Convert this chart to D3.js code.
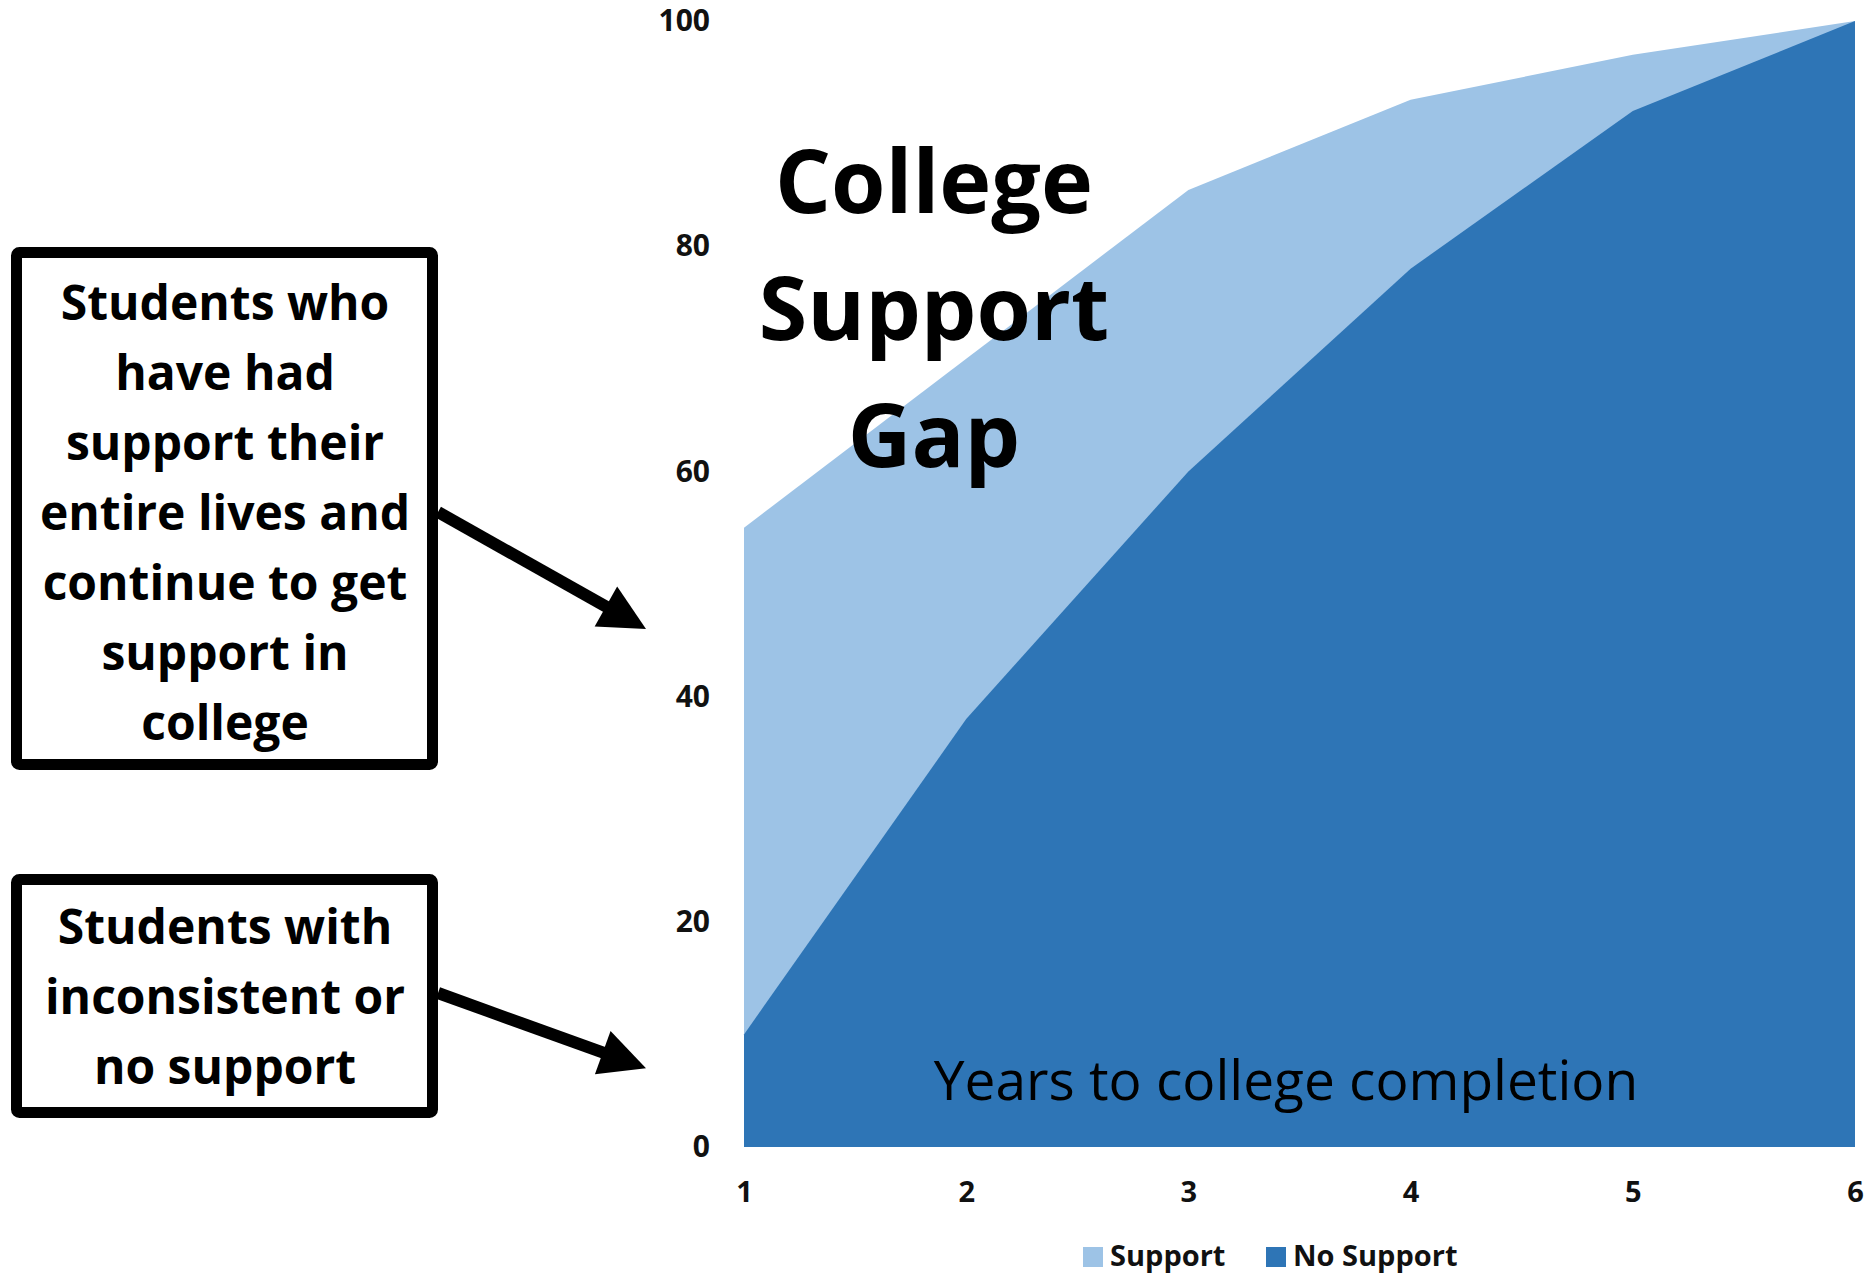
<!DOCTYPE html>
<html>
<head>
<meta charset="utf-8">
<script src="https://cdn.jsdelivr.net/npm/d3@7"></script>
<style>
  body { margin: 0; background: #fff; }
  text { font-family: "Open Sans", "Noto Sans", sans-serif; }
</style>
</head>
<body>
<script>
// Data
const years = [1, 2, 3, 4, 5, 6];
const support = [55, 70, 85, 93, 97, 100];
const noSupport = [10, 38, 60, 78, 92, 100];
const yTicks = [0, 20, 40, 60, 80, 100];
const seriesNames = ['Support', 'No Support'];
const seriesColors = ['#9dc3e6', '#2e75b6'];
const titleLines = ['College', 'Support', 'Gap'];
const boxOneLines = ['Students who', 'have had', 'support their', 'entire lives and',
  'continue to get', 'support in', 'college'];
const boxTwoLines = ['Students with', 'inconsistent or', 'no support'];

// svg size
const WIDTH = 1864;
const HEIGHT = 1274;

const margin = {
  top: 21,
  bottom: 127,
  right: 9,
  left: 744,
};

const svg = d3.select('body')
  .append('svg')
  .attr('width', WIDTH)
  .attr('height', HEIGHT);

// X scale
const escalaX = d3.scaleLinear()
  .domain([1, 6])
  .range([margin.left, WIDTH - margin.right]);

// Y scale
const escalaY = d3.scaleLinear()
  .domain([0, 100])
  .range([HEIGHT - margin.bottom, margin.top]);

// areas (overlapping, not stacked)
const area = (values) => d3.area()
  .x((d, i) => escalaX(years[i]))
  .y0(escalaY(0))
  .y1((d) => d)
  .curve(d3.curveLinear)(values.map((v) => escalaY(v)));

svg.append('path')
  .attr('d', area(support))
  .attr('fill', seriesColors[0]);

svg.append('path')
  .attr('d', area(noSupport))
  .attr('fill', seriesColors[1]);

// axes (no lines, just labels)
const ejeY = d3.axisLeft(escalaY).tickValues(yTicks).tickSize(0).tickPadding(0);
const gY = svg.append('g')
  .attr('transform', `translate(${margin.left - 34}, 0)`)
  .call(ejeY);

const ejeX = d3.axisBottom(escalaX)
  .tickValues(years)
  .tickFormat(d3.format('d'))
  .tickSize(0)
  .tickPadding(0);
const gX = svg.append('g')
  .attr('transform', `translate(0, ${HEIGHT - margin.bottom + 34})`)
  .call(ejeX);

[gY, gX].forEach((g) => {
  g.select('.domain').remove();
  g.selectAll('text')
    .attr('font-family', '"Open Sans", sans-serif')
    .attr('font-size', 30)
    .attr('font-weight', 700)
    .attr('fill', '#111');
});
gX.selectAll('text').attr('dy', '0.71em').attr('font-size', 29);

// legend
const legend = svg.append('g')
  .attr('transform', `translate(1083, 1247)`);

const legendX = [0, 183];
seriesNames.forEach((name, i) => {
  legend.append('rect')
    .attr('x', legendX[i])
    .attr('y', 0)
    .attr('width', 20)
    .attr('height', 20)
    .attr('fill', seriesColors[i]);
  legend.append('text')
    .attr('x', legendX[i] + 27)
    .attr('y', 19)
    .attr('font-size', 29)
    .attr('font-weight', 700)
    .attr('fill', '#111')
    .text(name);
});

// title in the plot
svg.append('g')
  .selectAll('text')
  .data(titleLines)
  .enter()
  .append('text')
  .attr('x', 934)
  .attr('y', (d, i) => 213 + i * 127)
  .attr('text-anchor', 'middle')
  .attr('font-size', 88)
  .attr('font-weight', 700)
  .attr('fill', '#000')
  .text((d) => d);

// x axis caption inside the area
svg.append('text')
  .attr('x', 1286)
  .attr('y', 1100)
  .attr('text-anchor', 'middle')
  .attr('font-size', 55)
  .attr('fill', '#000')
  .text('Years to college completion');

// annotation boxes
function drawBox(y, h, lines, firstBaseline) {
  svg.append('rect')
    .attr('x', 16.5)
    .attr('y', y)
    .attr('width', 416)
    .attr('height', h)
    .attr('rx', 3)
    .attr('fill', '#fff')
    .attr('stroke', '#000')
    .attr('stroke-width', 11);

  svg.append('g')
    .selectAll('text')
    .data(lines)
    .enter()
    .append('text')
    .attr('x', 225)
    .attr('y', (d, i) => firstBaseline + i * 70)
    .attr('text-anchor', 'middle')
    .attr('font-size', 48)
    .attr('font-weight', 700)
    .attr('fill', '#000')
    .text((d) => d);
}

drawBox(252.5, 512, boxOneLines, 320);
drawBox(879.5, 233, boxTwoLines, 944);

// arrows pointing at the two areas
function drawArrow(x1, y1, x2, y2) {
  const len = Math.hypot(x2 - x1, y2 - y1);
  const ux = (x2 - x1) / len;
  const uy = (y2 - y1) / len;
  const headLen = 46;
  const halfW = 23;
  const bx = x2 - ux * headLen;
  const by = y2 - uy * headLen;

  svg.append('line')
    .attr('x1', x1)
    .attr('y1', y1)
    .attr('x2', bx + ux * 2)
    .attr('y2', by + uy * 2)
    .attr('stroke', '#000')
    .attr('stroke-width', 12);

  svg.append('polygon')
    .attr('points', [
      [x2, y2],
      [bx - uy * halfW, by + ux * halfW],
      [bx + uy * halfW, by - ux * halfW],
    ].map((p) => p.join(',')).join(' '))
    .attr('fill', '#000');
}

drawArrow(438, 512, escalaX(1) - 98, escalaY(46));
drawArrow(438, 993, escalaX(1) - 98, escalaY(7));
</script>
</body>
</html>
